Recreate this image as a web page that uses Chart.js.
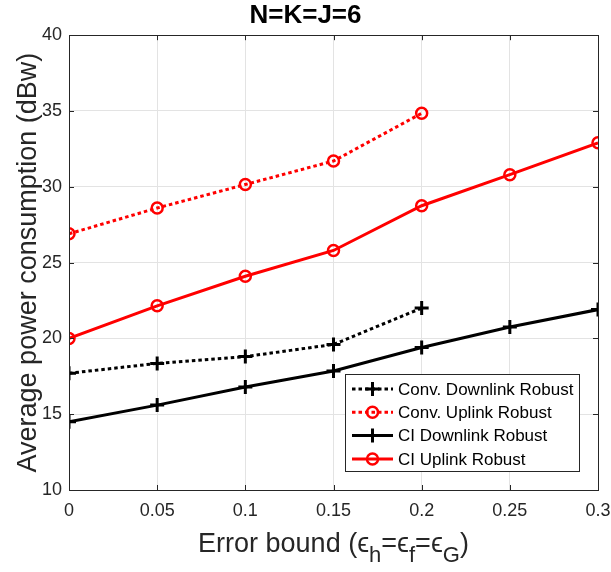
<!DOCTYPE html>
<html>
<head>
<meta charset="utf-8">
<script src="https://cdn.jsdelivr.net/npm/chart.js"></script>
<style>
  body { margin: 0; background: #fff; }
  #wrap { width: 611px; height: 572px; }
</style>
</head>
<body>
<div id="wrap"><canvas id="chart" width="611" height="572"></canvas></div>
<script>
// values
const xValues = [0, 0.05, 0.1, 0.15, 0.2, 0.25, 0.3];
const xTickLabels = ['0', '0.05', '0.1', '0.15', '0.2', '0.25', '0.3'];
const yTicks = [10, 15, 20, 25, 30, 35, 40];
const yTickLabels = ['10', '15', '20', '25', '30', '35', '40'];

const convDownlink = [17.7, 18.35, 18.8, 19.6, 22.0];
const convUplink = [26.9, 28.6, 30.15, 31.7, 34.85];
const ciDownlink = [14.5, 15.6, 16.8, 17.85, 19.4, 20.75, 21.9];
const ciUplink = [20.0, 22.15, 24.1, 25.8, 28.75, 30.8, 32.9];

const seriesLabels = ['Conv. Downlink Robust', 'Conv. Uplink Robust', 'CI Downlink Robust', 'CI Uplink Robust'];

const FONT = "'Liberation Sans', Arial, Helvetica, sans-serif";
const AXIS_COLOR = '#262626';

const toPoints = (ys) => ys.map((y, i) => ({ x: xValues[i], y: y }));

const makeSet = (label, ys, color, dotted, marker) => ({
  label: label,
  data: toPoints(ys),
  borderColor: color,
  backgroundColor: color,
  borderWidth: 3,
  borderDash: dotted ? [3.5, 3] : [],
  pointStyle: marker,
  pointRadius: marker === 'cross' ? 7 : 5.5,
  pointBorderWidth: marker === 'cross' ? 3 : 2.5,
  pointBorderColor: color,
  pointBackgroundColor: 'rgba(0,0,0,0)',
  tension: 0,
  fill: false
});

// box around the plot + inward tick marks, like matlab
const boxPlugin = {
  id: 'boxPlugin',
  afterDraw(chart) {
    const { ctx, chartArea: a } = chart;
    const xs = chart.scales.x, ys = chart.scales.y;
    ctx.save();
    ctx.strokeStyle = AXIS_COLOR;
    ctx.lineWidth = 1;
    ctx.beginPath();
    xValues.forEach(v => {
      const px = Math.round(xs.getPixelForValue(v)) + 0.5;
      ctx.moveTo(px, a.bottom); ctx.lineTo(px, a.bottom - 5);
      ctx.moveTo(px, a.top); ctx.lineTo(px, a.top + 5);
    });
    yTicks.forEach(v => {
      const py = Math.round(ys.getPixelForValue(v)) + 0.5;
      ctx.moveTo(a.left, py); ctx.lineTo(a.left + 5, py);
      ctx.moveTo(a.right, py); ctx.lineTo(a.right - 5, py);
    });
    ctx.stroke();
    ctx.strokeRect(Math.round(a.left) + 0.5, Math.round(a.top) + 0.5,
      Math.round(a.right - a.left), Math.round(a.bottom - a.top));
    ctx.restore();
  }
};

// x axis title with subscripts
const xTitlePlugin = {
  id: 'xTitlePlugin',
  afterDraw(chart) {
    const { ctx, chartArea: a } = chart;
    const parts = [
      { t: 'Error bound (', sub: false },
      { t: '\u03F5', sub: false },
      { t: 'h', sub: true },
      { t: '=\u03F5', sub: false },
      { t: 'f', sub: true },
      { t: '=\u03F5', sub: false },
      { t: 'G', sub: true },
      { t: ')', sub: false }
    ];
    const mainFont = '27px ' + FONT;
    const subFont = '22px ' + FONT;
    ctx.save();
    ctx.fillStyle = AXIS_COLOR;
    ctx.textBaseline = 'alphabetic';
    ctx.textAlign = 'left';
    let total = 0;
    parts.forEach(p => {
      ctx.font = p.sub ? subFont : mainFont;
      p.w = ctx.measureText(p.t).width;
      total += p.w;
    });
    let x = (a.left + a.right) / 2 - total / 2;
    const base = 552;
    parts.forEach(p => {
      ctx.font = p.sub ? subFont : mainFont;
      ctx.fillText(p.t, x, p.sub ? base + 10 : base);
      x += p.w;
    });
    ctx.restore();
  }
};

// legend box inside the plot (lower right)
const legendPlugin = {
  id: 'legendPlugin',
  afterDraw(chart) {
    const { ctx } = chart;
    const bx = 345.5, by = 374.5, bw = 234, bh = 97;
    ctx.save();
    ctx.fillStyle = '#fff';
    ctx.fillRect(bx, by, bw, bh);
    ctx.strokeStyle = AXIS_COLOR;
    ctx.lineWidth = 1;
    ctx.strokeRect(bx, by, bw, bh);
    chart.data.datasets.forEach((ds, i) => {
      const y = 389 + i * 23.3;
      ctx.strokeStyle = ds.borderColor;
      ctx.lineWidth = ds.borderWidth;
      ctx.setLineDash(ds.borderDash);
      ctx.beginPath();
      ctx.moveTo(352, y);
      ctx.lineTo(393, y);
      ctx.stroke();
      ctx.setLineDash([]);
      ctx.fillStyle = 'rgba(0,0,0,0)';
      ctx.lineWidth = ds.pointBorderWidth;
      Chart.helpers.drawPoint(ctx, {
        pointStyle: ds.pointStyle,
        radius: ds.pointRadius,
        borderWidth: ds.pointBorderWidth,
        rotation: 0
      }, 372.5, y);
      ctx.fillStyle = '#000';
      ctx.font = '17px ' + FONT;
      ctx.textBaseline = 'middle';
      ctx.textAlign = 'left';
      ctx.fillText(ds.label, 398, y + 1);
    });
    ctx.restore();
  }
};

const ctx = document.getElementById('chart').getContext('2d');
new Chart(ctx, {
  type: 'line',
  data: {
    datasets: [
      makeSet(seriesLabels[0], convDownlink, '#000000', true, 'cross'),
      makeSet(seriesLabels[1], convUplink, '#ff0000', true, 'circle'),
      makeSet(seriesLabels[2], ciDownlink, '#000000', false, 'cross'),
      makeSet(seriesLabels[3], ciUplink, '#ff0000', false, 'circle')
    ]
  },
  options: {
    responsive: false,
    animation: false,
    layout: { padding: 0 },
    plugins: {
      legend: { display: false },
      tooltip: { enabled: false },
      title: {
        display: true,
        text: 'N=K=J=6',
        color: '#000',
        font: { family: FONT, size: 26, weight: 'bold' },
        padding: { top: 0, bottom: 4 }
      }
    },
    scales: {
      x: {
        type: 'linear',
        min: 0,
        max: 0.3,
        afterBuildTicks: (s) => { s.ticks = xValues.map(v => ({ value: v })); },
        afterFit: (s) => { s.height = 82; s.paddingRight = 13; s.paddingLeft = 0; },
        ticks: {
          callback: (v, i) => xTickLabels[i],
          color: AXIS_COLOR,
          font: { family: FONT, size: 18 },
          padding: 10,
          maxRotation: 0
        },
        grid: { color: '#e3e3e3', lineWidth: 1, drawTicks: false },
        border: { display: false }
      },
      y: {
        type: 'linear',
        min: 10,
        max: 40,
        afterBuildTicks: (s) => { s.ticks = yTicks.map(v => ({ value: v })); },
        afterFit: (s) => { s.width = 69; },
        ticks: {
          callback: (v, i) => yTickLabels[i],
          color: AXIS_COLOR,
          font: { family: FONT, size: 18 },
          padding: 7
        },
        title: {
          display: true,
          text: 'Average power consumption (dBw)',
          color: AXIS_COLOR,
          font: { family: FONT, size: 27 },
          padding: { top: 12, bottom: 0 }
        },
        grid: { color: '#e3e3e3', lineWidth: 1, drawTicks: false },
        border: { display: false }
      }
    }
  },
  plugins: [boxPlugin, xTitlePlugin, legendPlugin]
});
</script>
</body>
</html>
